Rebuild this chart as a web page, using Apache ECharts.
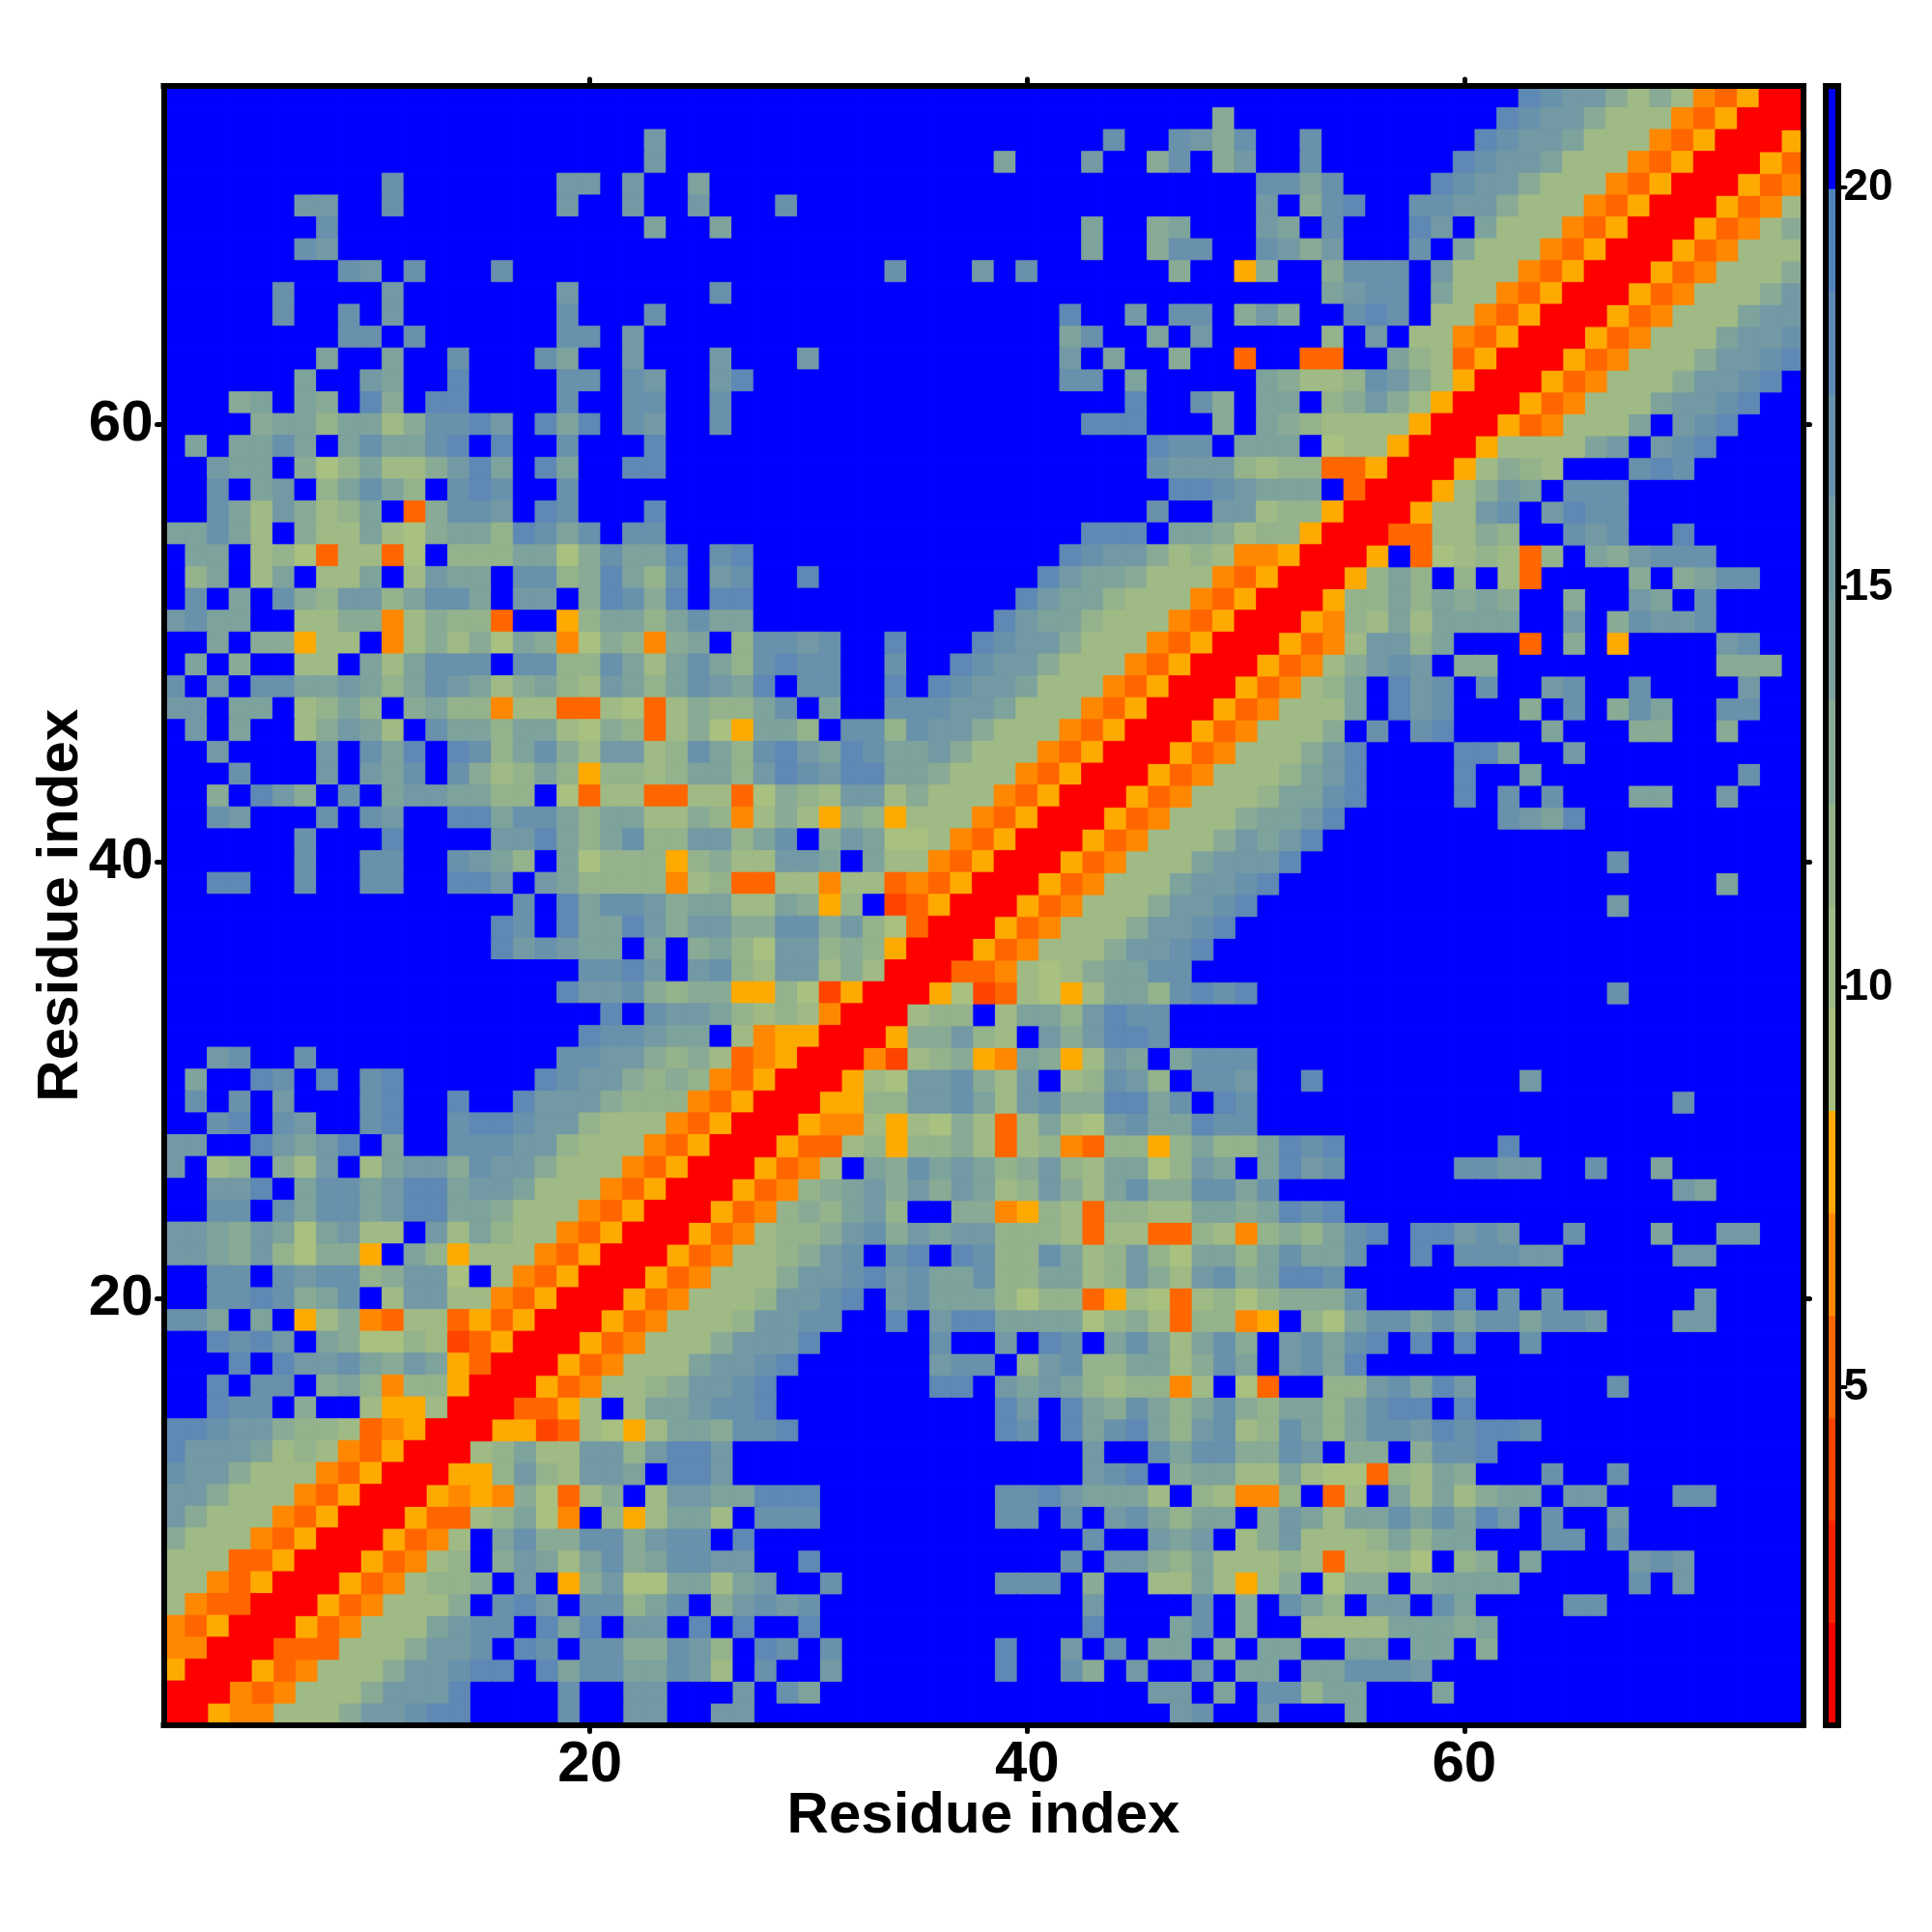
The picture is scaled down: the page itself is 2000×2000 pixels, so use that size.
<!DOCTYPE html>
<html>
<head>
<meta charset="utf-8">
<style>html,body{margin:0;padding:0;background:#fff}#c{width:2000px;height:2000px}</style>
<script src="https://cdn.jsdelivr.net/npm/echarts@6/dist/echarts.min.js"></script>
</head>
<body>
<div id="c"></div>
<script>
// Colour-level reading of each cell (0 = closest ... F = beyond 20), row by row for residue y = 75 down to 1,
// x = 1..y. The map is symmetric, so the other half is the mirror of what was read.
var rowsTopDown = [
"FFFFF FFFFF FFFFF FFFFF FFFFF FFFFF FFFFF FFFFF FFFFF FFFFF FFFFF FFFFF FFDCB B9797 43500",
"FFFFF FFFFF FFFFF FFFFF FFFFF FFFFF FFFFF FFFFF FFFFF FFF9F FFFFF FFFFF FDCBB 97774 3500",
"FFFFF FFFFF FFFFF FFFFF FFBFF FFFFF FFFFF FFFFF FFFCF FCB9C FFCFF FFFFF DCBBA 77743 500",
"FFFFF FFFFF FFFFF FFFFF FFBFF FFFFF FFFFF FFFAF FFBFF 9CF9B FFCFF FFFFD CBBA7 77435 00",
"FFFFF FFFFF CFFFF FFFBB FBFFA FFFFF FFFFF FFFFF FFFFF FFFFF CCACF FFFDC BB977 74350 0",
"FFFFF FBBFF CFFFF FFFBF FBFFB FFFCF FFFFF FFFFF FFFFF FFFFF BF9CD FFCCB B9777 43500",
"FFFFF FFCFF FFFFF FFFFF FFAFF AFFFF FFFFF FFFFF FFAFF 9AFFF BAFCF FFDBF A7774 3500",
"FFFFF FCBFF FFFFF FFFFF FFFFF FFFFF FFFFF FFFFF FFAFF 9CCFF CB9BF FFCFA 77743 500",
"FFFFF FFFCB FCFFF CFFFF FFFFF FFFFF FFFCF FFBFC FFFFF F9FF5 9FF9C CCFB7 77435 00",
"FFFFF CFFFF BFFFF FFFBF FFFFF CFFFF FFFFF FFFFF FFFFF FFFFF FFFAB CCFA7 74350 0",
"FFFFF CFFCF BFFFF FFFCF FFCFF FFFFF FFFFF FFFFF FDFFB FCCF9 B9FFC DCF77 43500",
"FFFFF FFFCC FCFFF FFFCC FBFFF FFFFF FFFFF FFFFF FACFF AFBFF FFF8F BF774 3500",
"FFFFF FFAFF AFFCF FFCAF FBFFF BFFFB FFFFF FFFFF FBFAF F9FF3 FF33F FA873 500",
"FFFFF FAFFB AFFDF FFFCC FCBFF BDFFF FFFFF FFFFF FCCFA FFFFF A9778 CB975 00",
"FFF9A FA9FD 9FDDF FFFCF FCCFF CFFFF FFFFF FFFFF FFFFD FFC9F AAF89 B9750 0",
"FFFF9 AA8AA 79CCD BFDAD FCBFF CFFFF FFFFF FFFFF FFDDD FFF9F A9877 77500",
"FAFAA CAFAC AACDF DFFCF FFDFF FFFFF FFFFF FFFFF FFFFF DCCFA AAF67 7500",
"FFBAA F968A 779BD AFDAF FDDFF FFFFF FFFFF FFFFF FFFFF CBBB8 78833 500",
"FFCFA BF8AC A8FCD CFFCF FFFFF FFFFF FFFFF FFFFF FFFFF FDDCB AAAF3 00",
"FFCA7 B978A F39CC BFDCF FFDFF FFFFF FFFFF FFFFF FFFFF CFFBB 78850 0",
"AACA7 F977A 769AA 8DCAC FCCFF FFFFF FFFFF FFFFF FFDDD FAA97 88500",
"FAAF7 86377 36F88 8AA69 CAADF CDFFF FFFFF FFFFF FDCBB 97874 4500",
"F8AF7 AF77A F7BAA FCC89 DA8CF BCFFD FFFFF FFFFF DBAA9 77743 500",
"FCFAF C98BB 8ACCA FBBF9 DC9DF DDFFF FFFFF FFFFD BAA87 77435 00",
"BCAAF F7799 47988 3FF58 AA8AC AAFFF FFFFF FFFDB AA877 74350 0",
"FFAF9 9577F 47979 6A946 9849A F8CCB CFFDF FFDCB B9777 43500",
"FAF9F F77FA 7ACCC FCC88 CA7AC A8CDC CFFCF FDCBB 97774 3500",
"CFBFC CAABA 8ACBA 79A87 BA8AC BADFC CFFDF DCBBA 77743 500",
"BBFAA F78A8 F9A88 47733 76379 88ACF AFFCC CBBA7 77435 00",
"FBFAF F79BA 7FCAA 8AA76 98379 65AA8 FCC8C BB977 74350 0",
"FFBFF FFBFC ADFDC 8AC97 BB78C A8CDB ADCAA B9777 43500",
"FFFCF FFBFB ACFC9 78A85 8878A A8BDC BDDAA 97774 3500",
"FF9FD B9FCF ABBAA 88F63 77337 73698 7BB79 77743 500",
"FFCBF FFCFC BFFDD ACCA8 AA779 84797 59857 77435 00",
"FFFFF FCFFF DFFFF BBDA8 AC88B B8ACF 9BA66 74350 0",
"FFFFF FCFFC CFFCB A8FA6 88858 977BB AFA77 43500",
"FFDDF FCFFC CFFDD BFBA8 88847 83377 47734 3500",
"FFFFF FFFFF FFFFF FCFDA CCB9A A77A9 58F23 500",
"FFFFF FFFFF FFFFF DCFDA ADB9B B99CC 9B863 00",
"FFFFF FFFFF FFFFF DBCBA AFAF9 A86BB 89850 0",
"FFFFF FFFFF FFFFF FFFFC CDBFB C87BB 79700",
"FFFFF FFFFF FFFFF FFFDB BC989 95586 2500",
"FFFFF FFFFF FFFFF FFFFF DFCBB A8787 400",
"FFFFF FFFFF FFFFF FFFFD CCBAA F7455 00",
"FFBCF FCFFF FFFFF FFFCC BB989 73450 0",
"FAFFD CFDFC DFFFF FFDCB B9898 43500",
"FCFCF BFFFC DFFDF FDBBB 98884 3500",
"FFCDF CBFFC DFFCD DCBB8 77743 500",
"BBFFD BABDF AFFCC CBB87 77435 00",
"BF78F 97BF7 ABB9C BB977 74350 0",
"FFBBD FACCA BDDAB BA777 43500",
"FFCCF CACCA BDDAA 97774 3500",
"BBA9B A6AB7 7FB7A 87743 500",
"BBA9B 86995 FA857 77435 00",
"FFCCF CBCC8 9BB6F 74350 0",
"FFCCD C9ACF 7BB77 43500",
"CCAFA F5794 37735 3500",
"FFDCD BFA96 68723 500",
"FFFDF DBBCA 9BA53 00",
"FFDFC CF9A8 48850 0",
"FFDCC F9FF7 55700",
"DDCBB 98873 4500",
"DBBBA 78743 500",
"CBB97 77435 00",
"BB977 74350 0",
"B9777 43500",
"97774 3500",
"77733 500",
"77435 00",
"74330 0",
"43500",
"4400",
"500",
"00",
"0"
];
var residues = [];
for (var i = 1; i <= 75; i++) residues.push(String(i));
var tickEvery = 20;
var barTickValues = [5, 10, 15, 20];
var barMin = 0.78, barMax = 21.27;
var levelColors = ["#ff0000","#ff2200","#ff4400","#ff6600","#ff8800","#ffaa00",
  "#a8c080","#9fba85","#94b28c","#89aa94","#7ea29c","#7399a4","#6891ac","#5d89b4","#5282bc","#0000ff"];
var levelWidth = (barMax - barMin) / levelColors.length;
function levelValue(l){ return +(barMin + levelWidth * (l + 0.5)).toFixed(2); }
function cell(x, y, l) {
  return { value: [x, y, levelValue(l)], itemStyle: { borderColor: levelColors[l], borderWidth: 0.8 } };
}

var cells = [];
rowsTopDown.forEach(function (r, k) {
  var y = 75 - k, s = r.replace(/ /g, "").padEnd(y, "F").slice(0, y);
  for (var x = 1; x <= y; x++) {
    var l = parseInt(s[x - 1], 16);
    cells.push(cell(x - 1, y - 1, l));
    if (x !== y) cells.push(cell(y - 1, x - 1, l));
  }
});
var barLevels = levelColors.map(function (c, l) { return levelValue(l); });
var barCats = barLevels.map(String);
var barCells = barLevels.map(function (v, l) { return cell(0, l, l); });
var pieces = levelColors.map(function (c, l) {
  return { gte: barMin + levelWidth * l - 1e-6, lt: barMin + levelWidth * (l + 1) + (l === 15 ? 1 : 0), color: c };
});

var FONT = "Liberation Sans";
var isTick = function (idx, val) { return Number(val) % tickEvery === 0; };
var borderLine = { lineStyle: { color: "#000", width: 6, cap: "square" }, onZero: false, show: true };
var mainTick = { show: true, alignWithLabel: true, interval: isTick, length: 7, lineStyle: { color: "#000", width: 5, cap: "round" } };
var mainLabel = { show: true, interval: isTick, fontFamily: FONT, fontWeight: "bold", fontSize: 60, color: "#000" };
var nameStyle = { fontFamily: FONT, fontWeight: "bold", fontSize: 60, color: "#000" };
function catAxis(extra) {
  return Object.assign({ type: "category", data: residues, boundaryGap: true, z: 10, axisLine: borderLine,
    axisTick: mainTick, splitLine: { show: false }, splitArea: { show: false } }, extra);
}
var option = {
  animation: false,
  backgroundColor: "#fff",
  grid: [
    { left: 169.5, top: 89, width: 1697, height: 1696.5, outerBoundsMode: "none", show: false },
    { left: 1890, top: 89, width: 12.5, height: 1696.5, outerBoundsMode: "none", show: false }
  ],
  visualMap: { show: false, type: "piecewise", seriesIndex: [0, 1], dimension: 2, pieces: pieces },
  xAxis: [
    catAxis({ gridIndex: 0, position: "bottom", axisLabel: Object.assign({ margin: 12 }, mainLabel),
      name: "Residue index", nameLocation: "middle", nameGap: 65, nameMoveOverlap: false, nameTextStyle: nameStyle }),
    catAxis({ gridIndex: 0, position: "top", axisLabel: { show: false } }),
    { type: "category", gridIndex: 1, position: "bottom", data: ["bar"], z: 10, axisLine: borderLine, axisTick: { show: false }, axisLabel: { show: false } },
    { type: "category", gridIndex: 1, position: "top", data: ["bar"], z: 10, axisLine: borderLine, axisTick: { show: false }, axisLabel: { show: false } }
  ],
  yAxis: [
    catAxis({ gridIndex: 0, position: "left", axisLabel: Object.assign({ margin: 11, padding: [5, 0, 0, 0] }, mainLabel),
      name: "Residue index", nameLocation: "middle", nameGap: 76, nameRotate: 90, nameMoveOverlap: false, nameTextStyle: nameStyle }),
    catAxis({ gridIndex: 0, position: "right", axisLabel: { show: false } }),
    { type: "category", gridIndex: 1, position: "left", data: barCats, z: 10, axisLine: borderLine, axisTick: { show: false }, axisLabel: { show: false } },
    { type: "value", gridIndex: 1, position: "right", min: barMin, max: barMax, z: 10, axisLine: borderLine, splitLine: { show: false },
      axisTick: { show: true, customValues: barTickValues, length: 8, lineStyle: { color: "#000", width: 4, cap: "round" } },
      axisLabel: { show: true, customValues: barTickValues, margin: 6, padding: [5, 0, 0, 0], fontFamily: FONT, fontWeight: "bold", fontSize: 46, color: "#000" } }
  ],
  series: [
    { type: "heatmap", xAxisIndex: 0, yAxisIndex: 0, data: cells, silent: true, progressive: 0, emphasis: { disabled: true } },
    { type: "heatmap", xAxisIndex: 2, yAxisIndex: 2, data: barCells, silent: true, progressive: 0, emphasis: { disabled: true } }
  ]
};
echarts.init(document.getElementById("c"), null, { renderer: "canvas" }).setOption(option);
</script>
</body>
</html>
